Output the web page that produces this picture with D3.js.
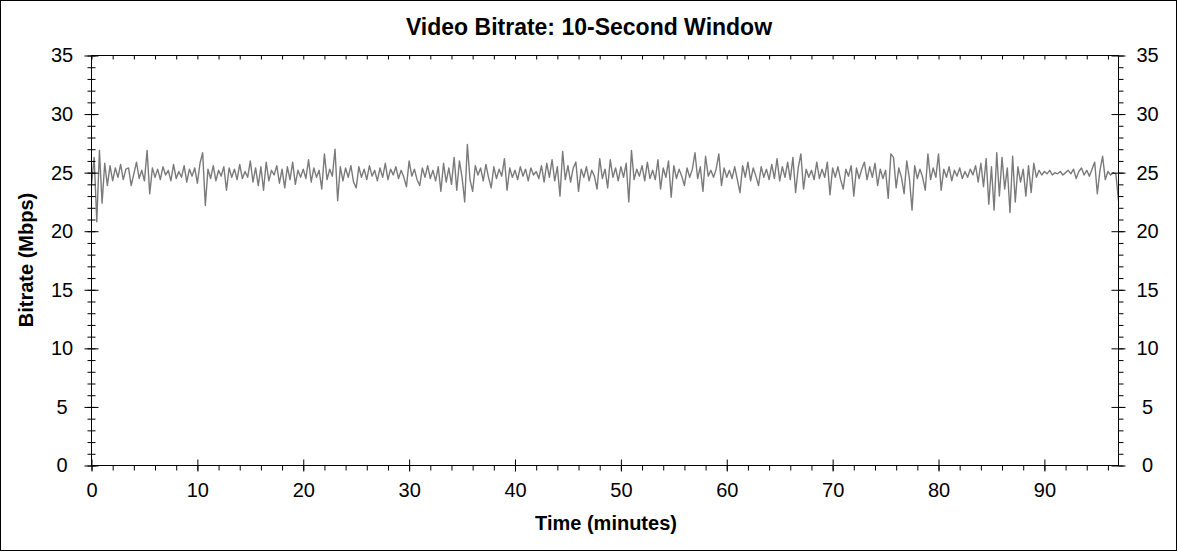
<!DOCTYPE html>
<html><head><meta charset="utf-8">
<script src="https://cdn.jsdelivr.net/npm/d3@7"></script>
<style>
body{margin:0;background:#fff}
svg{display:block}
text{font-family:Arial,"Liberation Sans",sans-serif;fill:#000}
</style>
</head><body>
<svg id="chart" width="1178" height="552"></svg>
<script>
const bitrateMbps = [
24.0,26.3,20.8,26.9,22.4,25.8,23.9,25.6,24.3,25.4,24.6,25.7,24.4,25.3,25.4,23.9,24.9,25.9,24.5,25.2,
24.3,26.9,23.2,25.4,24.6,25.3,24.4,25.5,24.8,25.2,24.3,25.7,24.5,25.1,24.6,25.6,24.2,25.3,24.7,25.4,
24.1,25.8,26.7,22.2,25.3,24.5,25.6,24.3,25.2,24.7,25.5,23.5,25.4,24.6,25.3,24.4,25.7,24.5,25.1,24.6,
26.0,24.2,25.4,23.9,25.5,23.5,25.9,24.3,25.2,24.8,25.6,24.1,25.3,23.7,25.5,24.4,25.9,24.0,25.2,24.6,
25.3,24.5,26.1,24.2,25.4,24.6,25.2,23.6,26.6,24.4,25.3,24.7,27.0,22.6,25.5,24.3,25.4,24.6,25.6,24.2,
23.7,25.5,24.6,25.3,24.4,25.6,24.7,25.2,24.3,25.4,24.6,25.8,24.4,25.3,24.8,25.5,24.5,25.2,24.6,23.8,
26.0,24.7,25.3,24.4,23.9,25.4,24.6,25.6,24.5,25.2,24.3,25.5,23.4,25.8,24.2,25.4,24.0,26.3,23.5,26.0,
24.6,22.5,27.4,24.4,23.4,25.6,24.8,25.4,24.3,25.7,24.6,23.7,25.5,24.5,25.3,24.7,26.2,23.5,25.4,24.6,
25.2,24.4,25.5,24.7,25.3,24.3,25.4,24.8,25.1,24.5,25.6,24.2,25.8,24.6,26.1,24.3,25.5,23.0,26.8,24.4,
25.6,24.2,25.4,25.9,23.4,25.3,24.6,25.5,24.3,25.2,24.7,23.6,26.2,24.5,25.3,23.7,26.1,24.6,25.4,24.3,
25.5,24.6,25.8,22.5,26.9,24.4,25.3,24.7,25.6,24.3,25.9,24.5,25.2,24.4,26.1,23.6,25.4,24.6,26.0,22.9,
25.6,24.5,25.3,24.7,23.9,25.4,24.6,25.3,26.7,24.5,25.5,23.4,26.4,24.7,25.2,24.6,25.3,26.6,23.9,25.4,
24.6,25.2,24.5,25.5,24.4,23.3,25.6,24.6,25.9,24.3,25.4,24.7,23.9,25.5,24.6,25.3,24.4,25.7,24.5,26.2,
24.3,25.5,24.6,25.9,24.4,26.3,23.3,25.4,26.6,23.6,25.3,24.6,25.2,24.4,25.9,24.5,25.3,24.6,25.9,23.1,
25.4,24.6,25.5,24.4,23.6,25.3,24.7,25.6,23.0,25.4,24.5,25.3,25.9,24.4,25.5,24.6,25.8,23.9,25.3,24.5,
25.2,22.8,26.6,26.3,23.7,25.4,24.6,23.2,26.0,24.5,21.8,25.6,24.5,25.3,24.6,23.5,26.6,24.4,25.4,24.6,
26.6,23.5,25.3,24.6,25.5,24.3,25.2,24.7,25.4,24.5,25.1,24.6,25.3,24.8,25.6,24.2,25.8,23.8,26.2,22.3,
25.5,21.8,26.7,23.0,26.3,23.6,25.4,21.6,26.4,22.5,25.5,24.2,25.3,23.0,25.6,23.3,25.8,24.6,25.2,24.8,
25.1,24.9,25.2,24.8,25.0,24.9,25.1,24.8,25.0,25.2,24.9,25.3,24.5,25.1,25.4,24.8,25.2,24.7,25.3,25.9,
23.2,25.2,26.4,24.4,25.1,24.8,25.0,24.9,22.6
];
const sampleStepMinutes = 0.25;
const xDomain = [0, 97];
const yDomain = [0, 35];
const xTickValues = [0, 10, 20, 30, 40, 50, 60, 70, 80, 90];
const yTickValues = [0, 5, 10, 15, 20, 25, 30, 35];
const titleText = "Video Bitrate: 10-Second Window";
const xLabelText = "Time (minutes)";
const yLabelText = "Bitrate (Mbps)";

const W = 1178, H = 552;
const L = 91.5, R = 1118.5, T = 55.5, B = 465.5;
const svg = d3.select("#chart");

svg.append("rect").attr("x",0.5).attr("y",0.5).attr("width",W-2).attr("height",H-2)
  .attr("fill","#fff").attr("stroke","#000").attr("stroke-width",1);

const x = d3.scaleLinear().domain(xDomain).range([L, R]);
const y = d3.scaleLinear().domain(yDomain).range([B, T]);

const xMinor = d3.range(xDomain[0], xDomain[1] + 0.001, 2);
const yMinor = d3.range(yDomain[0], yDomain[1] + 0.001, 1);

svg.append("clipPath").attr("id","plotclip").append("rect")
  .attr("x",L).attr("y",T).attr("width",R-L).attr("height",B-T);

const pts = bitrateMbps.map((v,i)=>({t:i*sampleStepMinutes, v}));
const line = d3.line().x(d=>x(d.t)).y(d=>y(d.v));
svg.append("path").datum(pts).attr("clip-path","url(#plotclip)")
  .attr("d", line).attr("fill","none").attr("stroke","#7a7a7a").attr("stroke-width",1.4)
  .attr("stroke-linejoin","round");

function styleAxis(g){
  g.select(".domain").remove();
  g.selectAll(".tick line").attr("stroke","#000").attr("stroke-width",1);
  g.selectAll("text").attr("font-size",20).attr("font-family","Arial, 'Liberation Sans', sans-serif").attr("fill","#000");
}

svg.append("g").attr("transform",`translate(${L},0)`)
  .call(d3.axisLeft(y).tickValues(yMinor).tickSize(4).tickFormat(""))
  .call(styleAxis).call(g=>g.selectAll(".tick line").attr("x1",4));
svg.append("g").attr("transform",`translate(${L},0)`)
  .call(d3.axisLeft(y).tickValues(yTickValues).tickSize(7).tickFormat(d3.format("d")))
  .call(styleAxis)
  .call(g=>{g.selectAll(".tick line").attr("x1",7);
            g.selectAll("text").attr("x",62-L).attr("text-anchor","middle");});

svg.append("g").attr("transform",`translate(${R},0)`)
  .call(d3.axisRight(y).tickValues(yMinor).tickSize(5).tickFormat(""))
  .call(styleAxis);
svg.append("g").attr("transform",`translate(${R},0)`)
  .call(d3.axisRight(y).tickValues(yTickValues).tickSize(7).tickFormat(d3.format("d")))
  .call(styleAxis)
  .call(g=>{g.selectAll(".tick line").attr("x1",-7);
            g.selectAll("text").attr("x",1147.5-R).attr("text-anchor","middle");});

svg.append("g").attr("transform",`translate(0,${B})`)
  .call(d3.axisBottom(x).tickValues(xMinor).tickSize(5).tickFormat(""))
  .call(styleAxis);
svg.append("g").attr("transform",`translate(0,${B})`)
  .call(d3.axisBottom(x).tickValues(xTickValues).tickSize(6).tickFormat(d3.format("d")))
  .call(styleAxis)
  .call(g=>{g.selectAll(".tick line").attr("y1",-6);
            g.selectAll("text").attr("y",497-B).attr("dy",null);});

svg.append("g").attr("transform",`translate(0,${T})`)
  .call(d3.axisBottom(x).tickValues(xMinor).tickSize(4).tickFormat(""))
  .call(styleAxis);

svg.append("rect").attr("x",L).attr("y",T).attr("width",R-L).attr("height",B-T)
  .attr("fill","none").attr("stroke","#000").attr("stroke-width",1);

svg.append("text").attr("x",589).attr("y",35).attr("text-anchor","middle")
  .attr("font-size",23).attr("font-weight","bold").text(titleText);
svg.append("text").attr("x",606).attr("y",530).attr("text-anchor","middle")
  .attr("font-size",20).attr("font-weight","bold").text(xLabelText);
svg.append("text").attr("transform","translate(33,260) rotate(-90)").attr("text-anchor","middle")
  .attr("font-size",20).attr("font-weight","bold").text(yLabelText);
</script>
</body></html>
